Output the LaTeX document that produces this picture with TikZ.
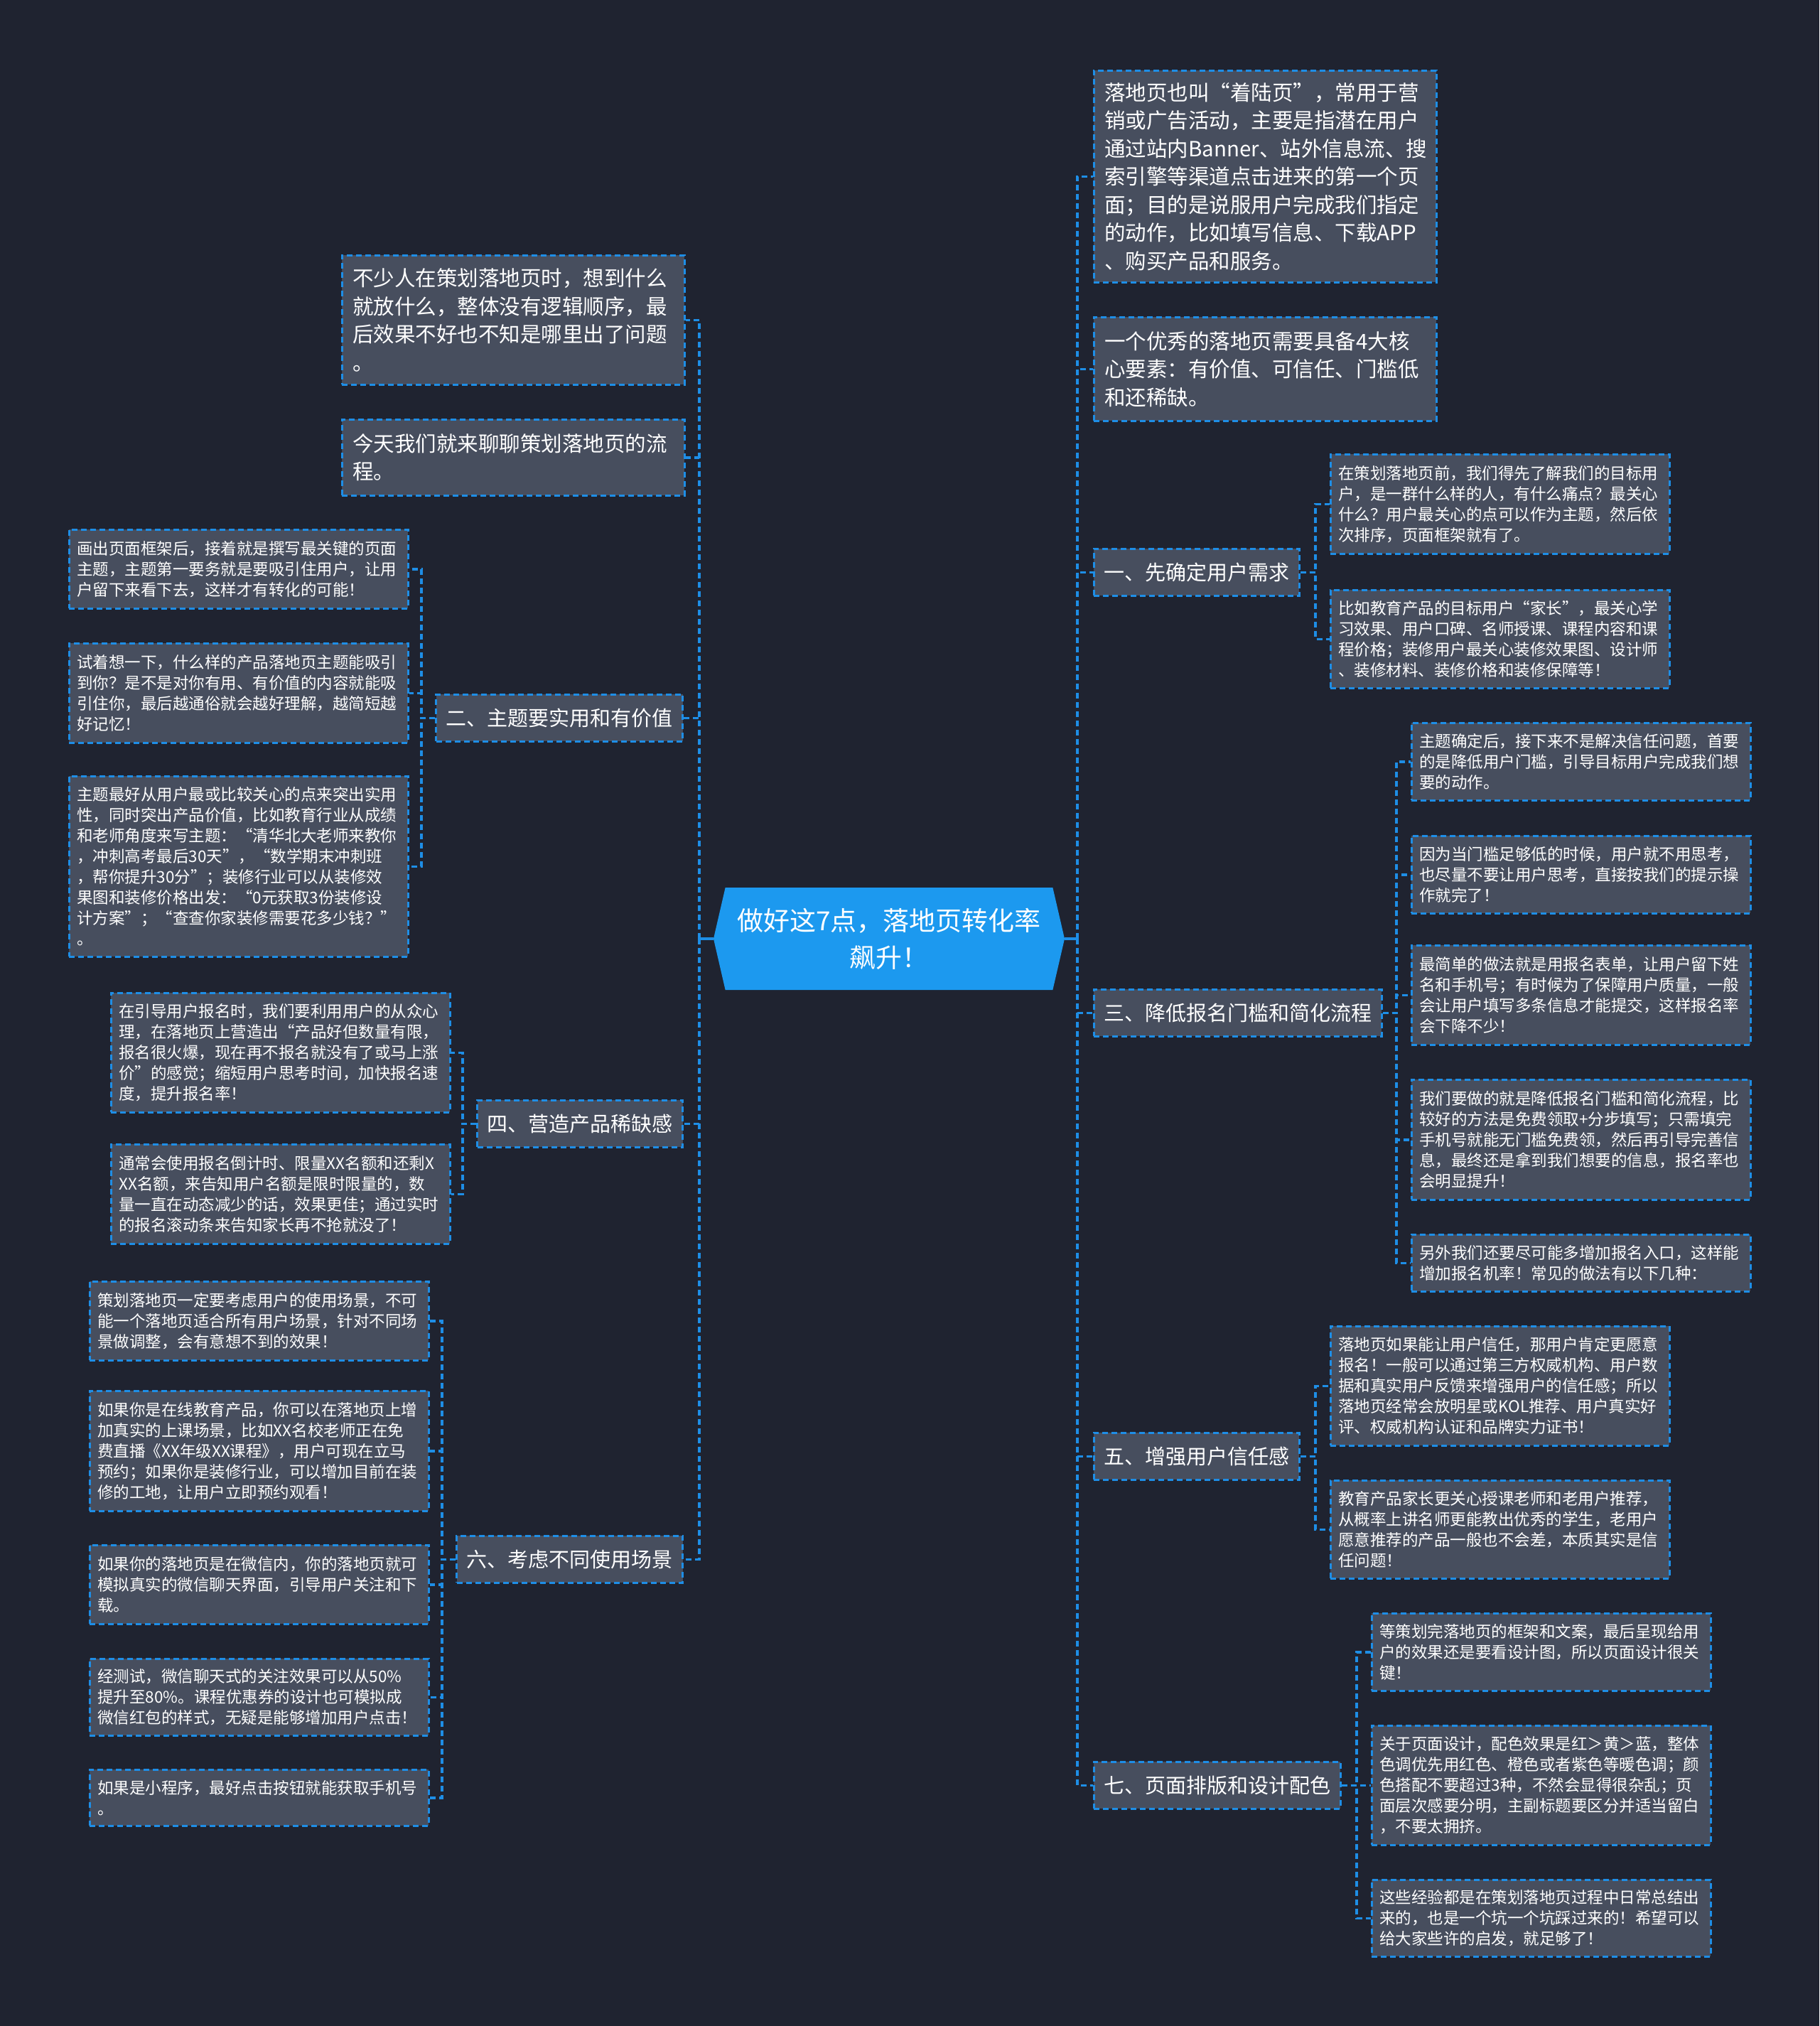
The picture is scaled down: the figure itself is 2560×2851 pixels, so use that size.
\documentclass[tikz,border=0pt]{standalone}
\usepackage{fontspec}
\setmainfont{Noto Sans CJK SC}
\usetikzlibrary{shapes.symbols}
\definecolor{bgc}{HTML}{1F2330}
\definecolor{boxc}{HTML}{474E5E}
\definecolor{linec}{HTML}{1E8EE6}
\definecolor{rootc}{HTML}{1C99EF}
\begin{document}
\begin{tikzpicture}[x=1pt,y=-1pt,
 base/.style={draw=linec, line width=2.7pt, dash pattern=on 8pt off 5pt, fill=boxc, text=white, align=left, inner ysep=0pt},
 leaf/.style={base, anchor=north west, text width=455pt, inner xsep=11pt, font=\fontsize{22.5}{29}\selectfont},
 big/.style={base, anchor=north west, text width=452pt, inner xsep=15pt, font=\fontsize{29.5}{39.5}\selectfont},
 head/.style={base, minimum height=66pt, inner xsep=14pt, font=\fontsize{29}{36}\selectfont},
 headL/.style={head, anchor=north east},
 headR/.style={head, anchor=north west},
 conn/.style={draw=linec, line width=3.4pt, dash pattern=on 8pt off 5pt},
 stub/.style={draw=linec, line width=3.4pt},
]
\fill[bgc] (0,0) rectangle (2560,2851);
\useasboundingbox (0,0) rectangle (2560,2851);

% root
\node[signal, signal to=west and east, signal pointer angle=154, fill=rootc, minimum width=494pt, minimum height=144pt, inner sep=0pt, align=center, text=white, font=\fontsize{37}{52}\selectfont] (c) at (1251,1321) {做好这7点，落地页转化率\\飙升！};

% ---------- left ----------
\node[big, minimum height=182pt] (L1) at (480,358) {不少人在策划落地页时，想到什么\\就放什么，整体没有逻辑顺序，最\\后效果不好也不知是哪里出了问题\\。};
\node[big, minimum height=107pt] (L2) at (480,589) {今天我们就来聊聊策划落地页的流\\程。};

\node[headL] (H2) at (962,976) {二、主题要实用和有价值};
\node[leaf, minimum height=111pt] (a1) at (96,744) {画出页面框架后，接着就是撰写最关键的页面\\主题，主题第一要务就是要吸引住用户，让用\\户留下来看下去，这样才有转化的可能！};
\node[leaf, minimum height=140pt] (a2) at (96,904) {试着想一下，什么样的产品落地页主题能吸引\\到你？是不是对你有用、有价值的内容就能吸\\引住你，最后越通俗就会越好理解，越简短越\\好记忆！};
\node[leaf, minimum height=254pt] (a3) at (96,1091) {主题最好从用户最或比较关心的点来突出实用\\性，同时突出产品价值，比如教育行业从成绩\\和老师角度来写主题：“清华北大老师来教你\\，冲刺高考最后30天”，“数学期末冲刺班\\，帮你提升30分”；装修行业可以从装修效\\果图和装修价格出发：“0元获取3份装修设\\计方案”；“查查你家装修需要花多少钱？”\\。};

\node[headL] (H4) at (962,1547) {四、营造产品稀缺感};
\node[leaf, minimum height=168pt] (b1) at (155,1396) {在引导用户报名时，我们要利用用户的从众心\\理，在落地页上营造出“产品好但数量有限，\\报名很火爆，现在再不报名就没有了或马上涨\\价”的感觉；缩短用户思考时间，加快报名速\\度，提升报名率！};
\node[leaf, minimum height=140pt] (b2) at (155,1609) {通常会使用报名倒计时、限量XX名额和还剩X\\XX名额，来告知用户名额是限时限量的，数\\量一直在动态减少的话，效果更佳；通过实时\\的报名滚动条来告知家长再不抢就没了！};

\node[headL] (H6) at (962,2160) {六、考虑不同使用场景};
\node[leaf, minimum height=111pt] (d1) at (125,1802) {策划落地页一定要考虑用户的使用场景，不可\\能一个落地页适合所有用户场景，针对不同场\\景做调整，会有意想不到的效果！};
\node[leaf, minimum height=169pt] (d2) at (125,1956) {如果你是在线教育产品，你可以在落地页上增\\加真实的上课场景，比如XX名校老师正在免\\费直播《XX年级XX课程》，用户可现在立马\\预约；如果你是装修行业，可以增加目前在装\\修的工地，让用户立即预约观看！};
\node[leaf, minimum height=111pt] (d3) at (125,2173) {如果你的落地页是在微信内，你的落地页就可\\模拟真实的微信聊天界面，引导用户关注和下\\载。};
\node[leaf, minimum height=108pt] (d4) at (125,2333) {经测试，微信聊天式的关注效果可以从50\%\\提升至80\%。课程优惠券的设计也可模拟成\\微信红包的样式，无疑是能够增加用户点击！};
\node[leaf, minimum height=79pt] (d5) at (125,2489) {如果是小程序，最好点击按钮就能获取手机号\\。};

% ---------- right ----------
\node[big, minimum height=298pt] (R1) at (1538,98) {落地页也叫“着陆页”，常用于营\\销或广告活动，主要是指潜在用户\\通过站内Banner、站外信息流、搜\\索引擎等渠道点击进来的第一个页\\面；目的是说服用户完成我们指定\\的动作，比如填写信息、下载APP\\、购买产品和服务。};
\node[big, minimum height=146pt] (R2) at (1538,445) {一个优秀的落地页需要具备4大核\\心要素：有价值、可信任、门槛低\\和还稀缺。};

\node[headR] (H1) at (1538,771) {一、先确定用户需求};
\node[leaf, minimum height=140pt] (e1) at (1871,638) {在策划落地页前，我们得先了解我们的目标用\\户，是一群什么样的人，有什么痛点？最关心\\什么？用户最关心的点可以作为主题，然后依\\次排序，页面框架就有了。};
\node[leaf, minimum height=138pt] (e2) at (1871,829) {比如教育产品的目标用户“家长”，最关心学\\习效果、用户口碑、名师授课、课程内容和课\\程价格；装修用户最关心装修效果图、设计师\\、装修材料、装修价格和装修保障等！};

\node[headR] (H3) at (1538,1391) {三、降低报名门槛和简化流程};
\node[leaf, minimum height=109pt] (f1) at (1985,1016) {主题确定后，接下来不是解决信任问题，首要\\的是降低用户门槛，引导目标用户完成我们想\\要的动作。};
\node[leaf, minimum height=109pt] (f2) at (1985,1175) {因为当门槛足够低的时候，用户就不用思考，\\也尽量不要让用户思考，直接按我们的提示操\\作就完了！};
\node[leaf, minimum height=140pt] (f3) at (1985,1329) {最简单的做法就是用报名表单，让用户留下姓\\名和手机号；有时候为了保障用户质量，一般\\会让用户填写多条信息才能提交，这样报名率\\会下降不少！};
\node[leaf, minimum height=169pt] (f4) at (1985,1518) {我们要做的就是降低报名门槛和简化流程，比\\较好的方法是免费领取+分步填写；只需填完\\手机号就能无门槛免费领，然后再引导完善信\\息，最终还是拿到我们想要的信息，报名率也\\会明显提升！};
\node[leaf, minimum height=80pt] (f5) at (1985,1736) {另外我们还要尽可能多增加报名入口，这样能\\增加报名机率！常见的做法有以下几种：};

\node[headR] (H5) at (1538,2015) {五、增强用户信任感};
\node[leaf, minimum height=168pt] (g1) at (1871,1865) {落地页如果能让用户信任，那用户肯定更愿意\\报名！一般可以通过第三方权威机构、用户数\\据和真实用户反馈来增强用户的信任感；所以\\落地页经常会放明星或KOL推荐、用户真实好\\评、权威机构认证和品牌实力证书！};
\node[leaf, minimum height=138pt] (g2) at (1871,2082) {教育产品家长更关心授课老师和老用户推荐，\\从概率上讲名师更能教出优秀的学生，老用户\\愿意推荐的产品一般也不会差，本质其实是信\\任问题！};

\node[headR] (H7) at (1538,2478) {七、页面排版和设计配色};
\node[leaf, minimum height=109pt] (k1) at (1929,2269) {等策划完落地页的框架和文案，最后呈现给用\\户的效果还是要看设计图，所以页面设计很关\\键！};
\node[leaf, minimum height=168pt] (k2) at (1929,2427) {关于页面设计，配色效果是红＞黄＞蓝，整体\\色调优先用红色、橙色或者紫色等暖色调；颜\\色搭配不要超过3种，不然会显得很杂乱；页\\面层次感要分明，主副标题要区分并适当留白\\，不要太拥挤。};
\node[leaf, minimum height=108pt] (k3) at (1929,2644) {这些经验都是在策划落地页过程中日常总结出\\来的，也是一个坑一个坑踩过来的！希望可以\\给大家些许的启发，就足够了！};

% ---------- connectors ----------
\coordinate (tL) at (984,0);
\coordinate (tR) at (1516,0);
\coordinate (t2) at (593,0);
\coordinate (t4) at (651,0);
\coordinate (t6) at (622,0);
\coordinate (t1) at (1851,0);
\coordinate (t3) at (1965,0);
\coordinate (t5) at (1851,0);
\coordinate (t7) at (1909,0);

\draw[stub] (c.west) -- (c.west -| tL);
\draw[stub] (c.east) -- (c.east -| tR);
\foreach \n in {L1,L2,H2,H4,H6}
  \draw[conn] (c.west -| tL) |- (\n.east);
\foreach \n in {R1,R2,H1,H3,H5,H7}
  \draw[conn] (c.east -| tR) |- (\n.west);

\foreach \n in {a1,a2,a3}
  \draw[conn] (H2.west) -- (H2.west -| t2) |- (\n.east);
\foreach \n in {b1,b2}
  \draw[conn] (H4.west) -- (H4.west -| t4) |- (\n.east);
\foreach \n in {d1,d2,d3,d4,d5}
  \draw[conn] (H6.west) -- (H6.west -| t6) |- (\n.east);
\foreach \n in {e1,e2}
  \draw[conn] (H1.east) -- (H1.east -| t1) |- (\n.west);
\foreach \n in {f1,f2,f3,f4,f5}
  \draw[conn] (H3.east) -- (H3.east -| t3) |- (\n.west);
\foreach \n in {g1,g2}
  \draw[conn] (H5.east) -- (H5.east -| t5) |- (\n.west);
\foreach \n in {k1,k2,k3}
  \draw[conn] (H7.east) -- (H7.east -| t7) |- (\n.west);
\end{tikzpicture}
\end{document}
